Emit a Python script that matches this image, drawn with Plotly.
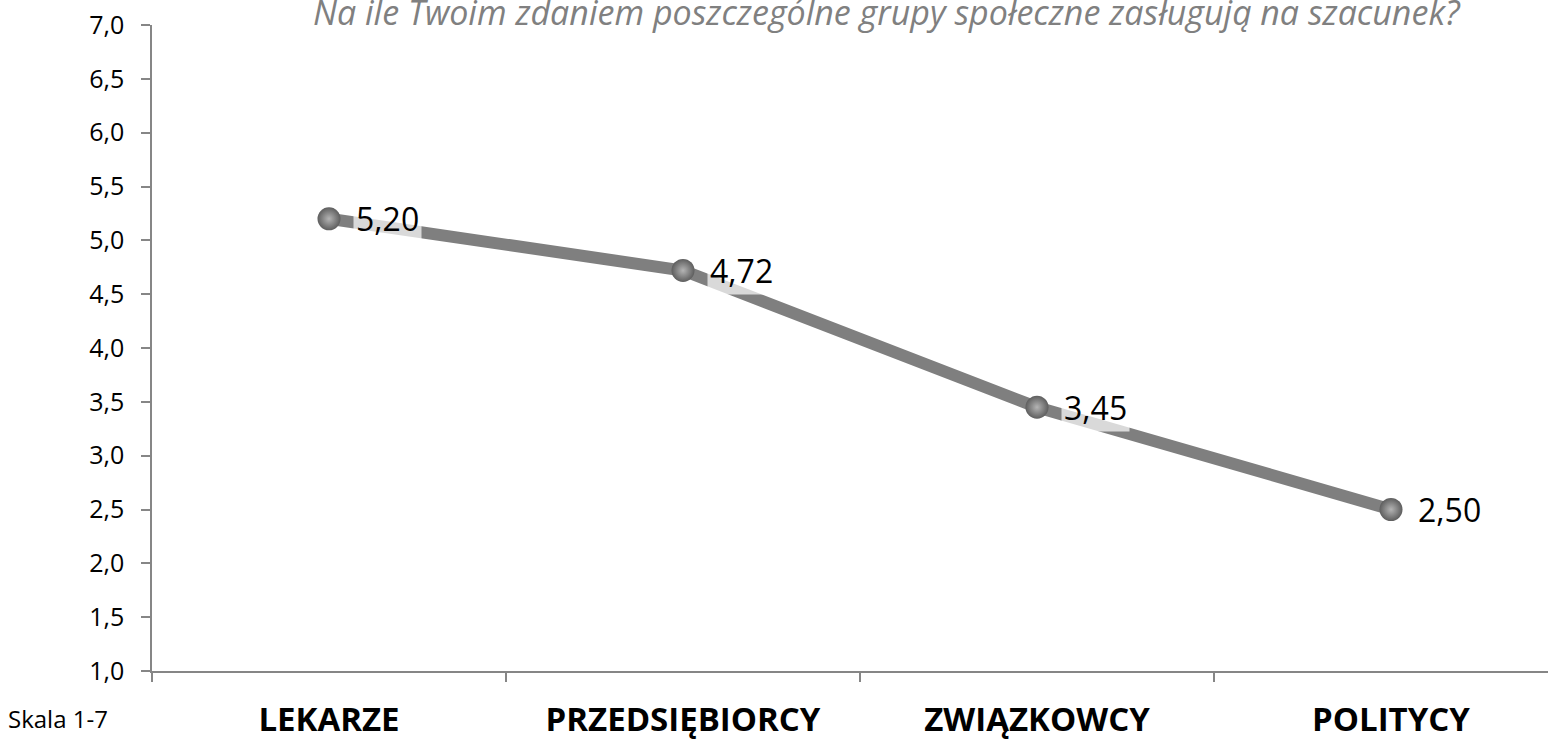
import plotly.graph_objects as go

categories = ["LEKARZE", "PRZEDSIĘBIORCY", "ZWIĄZKOWCY", "POLITYCY"]
values = [5.20, 4.72, 3.45, 2.50]
value_labels = ["5,20", "4,72", "3,45", "2,50"]
title_text = "Na ile Twoim zdaniem poszczególne grupy społeczne zasługują na szacunek?"
scale_note = "Skala 1-7"

FONT = "Open Sans, sans-serif"
xpos = list(range(len(categories)))

fig = go.Figure()
fig.add_trace(go.Scatter(
    x=xpos, y=values, mode="lines+markers",
    line=dict(color="#7f7f7f", width=12),
    marker=dict(size=23, color="#5e5e5e",
                gradient=dict(type="radial", color="#b4b4b4"),
                line=dict(width=0)),
    showlegend=False, hoverinfo="skip",
))

annotations = []
for xi, v, lab in zip(xpos, values, value_labels):
    annotations.append(dict(
        x=xi, y=v, xref="x", yref="y", text=lab, showarrow=False,
        xanchor="left", yanchor="middle", xshift=24,
        font=dict(family=FONT, size=32, color="#000000"),
        bgcolor="rgba(255,255,255,0.7)", borderpad=2,
    ))

plot_w = 1548 - 152
annotations.append(dict(
    x=(887 - 152) / plot_w, y=1, xref="paper", yref="paper", text=title_text, showarrow=False,
    xanchor="center", yanchor="middle", yshift=13,
    font=dict(family=FONT, size=34, color="#808080", style="italic"),
))
annotations.append(dict(
    x=(58 - 152) / plot_w, y=-0.0728, xref="paper", yref="paper", text=scale_note, showarrow=False,
    xanchor="center", yanchor="middle",
    font=dict(family=FONT, size=24, color="#000000"),
))

n = len(categories)
fig.update_layout(
    width=1548, height=743,
    margin=dict(l=152, r=0, t=25, b=72, autoexpand=False),
    paper_bgcolor="white", plot_bgcolor="white",
    separators=", ",
    annotations=annotations,
    xaxis=dict(
        range=[-0.5, -0.5 + plot_w / 354], tickvals=xpos, ticktext=categories,
        ticks="", showgrid=False, zeroline=False, automargin=False,
        showline=True, linecolor="#868686", linewidth=1.5,
        tickfont=dict(family=FONT, size=33, color="#000000", weight="bold"),
        ticklabelstandoff=19, ticklabeloverflow="allow",
        minor=dict(tickvals=[i - 0.5 for i in range(n)], ticks="outside", ticklen=9,
                   tickcolor="#868686", tickwidth=1.5, showgrid=False),
    ),
    yaxis=dict(
        range=[1, 7], dtick=0.5, tick0=1, tickformat=".1f",
        ticks="outside", ticklen=9, tickcolor="#868686", tickwidth=1.5,
        showgrid=False, zeroline=False, automargin=False,
        showline=True, linecolor="#868686", linewidth=1.5,
        tickfont=dict(family=FONT, size=25, color="#000000"),
        ticklabelstandoff=12, ticklabeloverflow="allow",
    ),
)

fig.write_html("out.html", config={"displayModeBar": False},
               post_script="document.body.style.margin='0';document.body.style.overflow='hidden';")
